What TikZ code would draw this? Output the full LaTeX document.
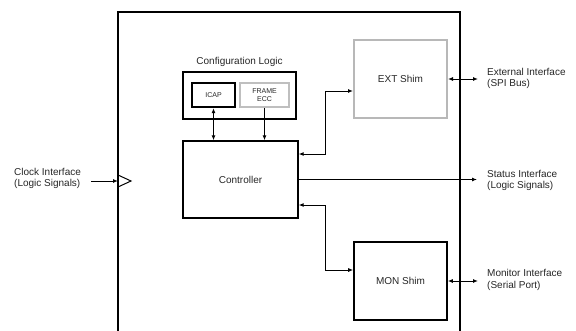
\documentclass[tikz,border=0pt]{standalone}
\usepackage{fontspec}
\setmainfont{Liberation Sans}
\usetikzlibrary{arrows.meta}

\begin{document}
\begin{tikzpicture}[x=1pt,y=-1pt,
    every node/.style={font=\fontsize{10}{11.5}\selectfont,text=black!85},
    blk/.style={draw,rectangle,inner sep=0pt},
    small/.style={font=\fontsize{7}{8.5}\selectfont,align=center},
    conn/.style={line width=1pt,>={Latex[length=5pt,width=4pt]}},
    lbl/.style={anchor=west,align=left,inner sep=0pt}]
    \useasboundingbox (0,0) rectangle (576,330);

    % Define points
    \coordinate (BL) at (118,332);
    \coordinate (TL) at (118,12);
    \coordinate (TR) at (460,12);
    \coordinate (BR) at (460,332);
    \coordinate (clkIn) at (118,181);
    \coordinate (extEnd) at (478,79);
    \coordinate (statusEnd) at (477,179.5);
    \coordinate (monEnd) at (478,281);

    % Draw outer frame (open at the bottom)
    \draw[line width=1.6pt] (BL) -- (TL) -- (TR) -- (BR);

    % Configuration logic block
    \node[blk,line width=1.1pt,minimum width=113,minimum height=47] (cfg) at (239.5,95.5) {};
    \node (cfglbl) at (239.5,62) {Configuration Logic};
    \node[blk,small,line width=2.2pt,minimum width=43,minimum height=24] (icap) at (213.5,95) {ICAP};
    \node[blk,small,draw=black!25,line width=2pt,minimum width=49,minimum height=24] (ecc) at (264.5,95) {FRAME\\ECC};

    % Controller and shims
    \node[blk,line width=1.3pt,minimum width=115,minimum height=77] (ctrl) at (240.5,179.5) {Controller};
    \node[blk,draw=black!28,line width=2pt,minimum width=93,minimum height=78] (ext) at (400.5,79) {EXT Shim};
    \node[blk,line width=1.6pt,minimum width=93,minimum height=78] (mon) at (400.5,281) {MON Shim};

    % Interface labels
    \node[lbl] (clk) at (14,178.5) {Clock Interface\\(Logic Signals)};
    \node[lbl] (extif) at (487,78.5) {External Interface\\(SPI Bus)};
    \node[lbl] (status) at (487,180.5) {Status Interface\\(Logic Signals)};
    \node[lbl] (monif) at (487,280) {Monitor Interface\\(Serial Port)};

    % Draw inner connections
    \draw[conn,<->] (icap.south) -- (icap.south |- ctrl.north);
    \draw[conn,->] (ecc.south) -- (ecc.south |- ctrl.north);
    \draw[conn,<->] ([yshift=-12pt]ext.west) -- ++(-28,0) |- ([yshift=25.5pt]ctrl.east);
    \draw[conn,<->] ([yshift=-25.5pt]ctrl.east) -- ++(27,0) |- ([yshift=11pt]mon.west);

    % Draw outside interfaces
    \draw[conn,->] ([xshift=10pt]clk.east |- clkIn) -- (clkIn);
    \draw[line width=1pt] (118,175) -- (131,181) -- (118,187);
    \draw[conn,<->] (ext.east) -- (extEnd);
    \draw[conn,->] (ctrl.east) -- (statusEnd);
    \draw[conn,<->] (mon.east) -- (monEnd);
\end{tikzpicture}
\end{document}
